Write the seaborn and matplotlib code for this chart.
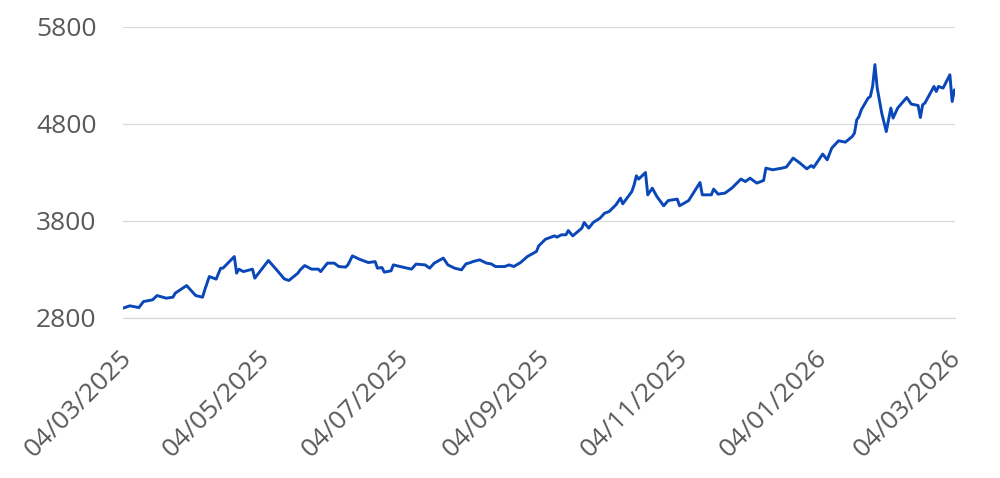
import matplotlib.dates as mdates
import matplotlib.pyplot as plt
import matplotlib.transforms as mtransforms
import pandas as pd
import seaborn as sns

dates = [
    "2025-03-04", "2025-03-07", "2025-03-11", "2025-03-13", "2025-03-17", "2025-03-19",
    "2025-03-23", "2025-03-26", "2025-03-27", "2025-04-01", "2025-04-03", "2025-04-05",
    "2025-04-08", "2025-04-09", "2025-04-11", "2025-04-14", "2025-04-16", "2025-04-17",
    "2025-04-22", "2025-04-23", "2025-04-24", "2025-04-26", "2025-04-30", "2025-05-01",
    "2025-05-07", "2025-05-10", "2025-05-14", "2025-05-16", "2025-05-20", "2025-05-21",
    "2025-05-23", "2025-05-26", "2025-05-29", "2025-05-30", "2025-06-02", "2025-06-05",
    "2025-06-07", "2025-06-10", "2025-06-11", "2025-06-13", "2025-06-16", "2025-06-20",
    "2025-06-23", "2025-06-24", "2025-06-26", "2025-06-27", "2025-06-30", "2025-07-01",
    "2025-07-04", "2025-07-09", "2025-07-11", "2025-07-15", "2025-07-17", "2025-07-19",
    "2025-07-23", "2025-07-25", "2025-07-28", "2025-07-31", "2025-08-02", "2025-08-04",
    "2025-08-05", "2025-08-08", "2025-08-11", "2025-08-13", "2025-08-15", "2025-08-19",
    "2025-08-21", "2025-08-23", "2025-08-26", "2025-08-29", "2025-09-02", "2025-09-03",
    "2025-09-06", "2025-09-10", "2025-09-11", "2025-09-13", "2025-09-15", "2025-09-16",
    "2025-09-18", "2025-09-22", "2025-09-23", "2025-09-25", "2025-09-27", "2025-09-30",
    "2025-10-02", "2025-10-04", "2025-10-07", "2025-10-09", "2025-10-10", "2025-10-14",
    "2025-10-15", "2025-10-16", "2025-10-17", "2025-10-20", "2025-10-21", "2025-10-23",
    "2025-10-25", "2025-10-28", "2025-10-30", "2025-11-03", "2025-11-04", "2025-11-08",
    "2025-11-11", "2025-11-13", "2025-11-14", "2025-11-18", "2025-11-19", "2025-11-21",
    "2025-11-24", "2025-11-27", "2025-12-01", "2025-12-03", "2025-12-05", "2025-12-08",
    "2025-12-11", "2025-12-12", "2025-12-15", "2025-12-19", "2025-12-21", "2025-12-24",
    "2025-12-27", "2025-12-30", "2026-01-01", "2026-01-02", "2026-01-06", "2026-01-08",
    "2026-01-10", "2026-01-13", "2026-01-16", "2026-01-19", "2026-01-20", "2026-01-21",
    "2026-01-22", "2026-01-23", "2026-01-26", "2026-01-27", "2026-01-28", "2026-01-29",
    "2026-01-30", "2026-02-01", "2026-02-03", "2026-02-05", "2026-02-06", "2026-02-08",
    "2026-02-12", "2026-02-14", "2026-02-17", "2026-02-18", "2026-02-19", "2026-02-20",
    "2026-02-24", "2026-02-25", "2026-02-26", "2026-02-28", "2026-03-03", "2026-03-04",
    "2026-03-05",
]
prices = [
    2900, 2924, 2906, 2968, 2986, 3030,
    3003, 3013, 3055, 3133, 3081, 3030,
    3013, 3089, 3226, 3199, 3312, 3312,
    3432, 3261, 3302, 3277, 3302, 3209,
    3391, 3312, 3202, 3185, 3261, 3295,
    3339, 3302, 3302, 3277, 3364, 3364,
    3329, 3323, 3346, 3439, 3405, 3370,
    3380, 3312, 3319, 3271, 3285, 3346,
    3329, 3302, 3354, 3346, 3312, 3364,
    3416, 3346, 3312, 3295, 3357, 3370,
    3380, 3398, 3364, 3357, 3329, 3329,
    3346, 3329, 3370, 3432, 3484, 3542,
    3611, 3645, 3632, 3656, 3656, 3700,
    3645, 3725, 3783, 3725, 3783, 3828,
    3879, 3896, 3965, 4034, 3975, 4102,
    4171, 4264, 4230, 4298, 4068, 4137,
    4051, 3955, 4009, 4024, 3955, 4009,
    4120, 4195, 4068, 4068, 4127, 4075,
    4086, 4137, 4230, 4205, 4240, 4189,
    4216, 4343, 4326, 4343, 4354, 4447,
    4395, 4336, 4370, 4350, 4488, 4429,
    4550, 4625, 4611, 4669, 4704, 4841,
    4875, 4944, 5065, 5082, 5190, 5410,
    5170, 4910, 4720, 4962, 4859, 4962,
    5071, 5003, 4989, 4865, 4996, 5014,
    5185, 5133, 5185, 5168, 5305, 5030,
    5150,
]
tick_dates = ["2025-03-04", "2025-05-04", "2025-07-04", "2025-09-04",
              "2025-11-04", "2026-01-04", "2026-03-04"]
y_ticks = [2800, 3800, 4800, 5800]

df = pd.DataFrame({"date": pd.to_datetime(dates), "price": prices})

sns.set_style("white")
plt.rcParams["font.family"] = ["Open Sans", "DejaVu Sans"]

fig = plt.figure(figsize=(10, 4.78), dpi=100)
ax = fig.add_axes([0.123, 0.335, 0.832, 0.609])

sns.lineplot(data=df, x="date", y="price", color="#0a47b8", linewidth=2.1, ax=ax)

grid_color = "#d9d9d9"
label_color = "#595959"
ax.set_ylim(2800, 5800)
ax.set_yticks(y_ticks)
ax.set_xlim(pd.Timestamp("2025-03-04"), pd.Timestamp("2026-03-05 06:00"))
ax.set_xticks(pd.to_datetime(tick_dates))
ax.xaxis.set_major_formatter(mdates.DateFormatter("%d/%m/%Y"))
ax.grid(axis="y", color=grid_color, linewidth=0.9)
ax.set_axisbelow(True)
for side in ["top", "right", "left"]:
    ax.spines[side].set_visible(False)
ax.spines["bottom"].set_color(grid_color)
ax.spines["bottom"].set_linewidth(0.9)
ax.tick_params(axis="y", length=0, pad=19, labelsize=19, labelcolor=label_color)
ax.tick_params(axis="x", direction="out", length=7, width=0.9, color=grid_color,
               pad=13, labelsize=19, labelcolor=label_color)
ax.set_xlabel("")
ax.set_ylabel("")

shift = mtransforms.ScaledTranslation(-4 / 100, 0, fig.dpi_scale_trans)
for lbl in ax.get_xticklabels():
    lbl.set_rotation(45)
    lbl.set_ha("right")
    lbl.set_va("top")
    lbl.set_rotation_mode("anchor")
    lbl.set_transform(lbl.get_transform() + shift)

fig.savefig("out.png", dpi=100)
